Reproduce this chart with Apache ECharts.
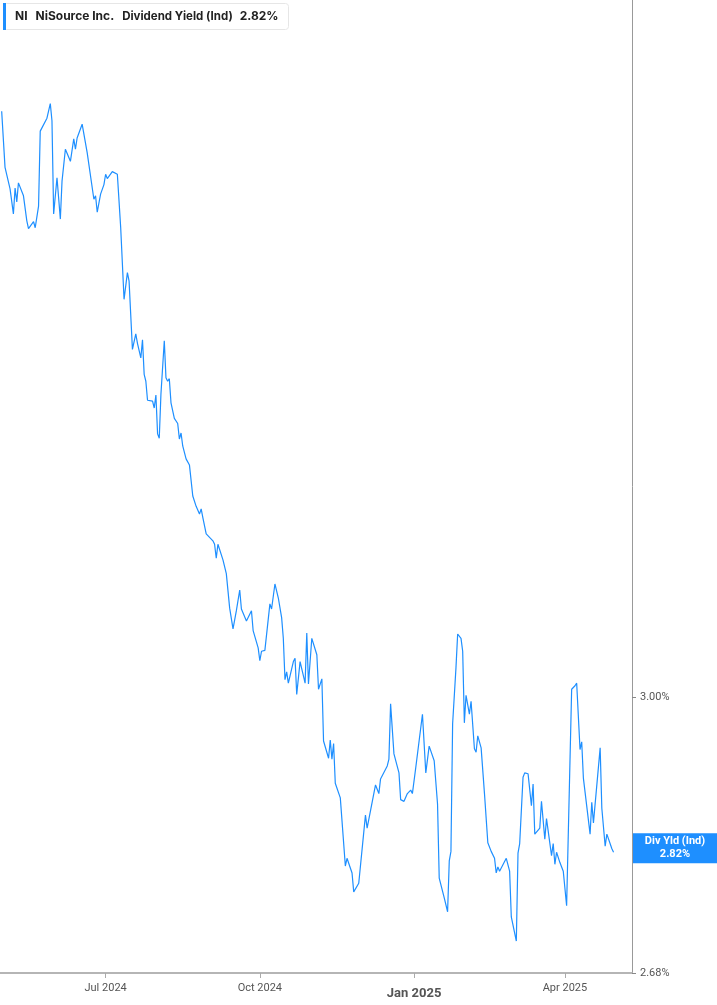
<!DOCTYPE html>
<html lang="en">
<head>
  <meta charset="UTF-8">
  <title>NI Dividend Yield (Ind)</title>
  <script src="https://cdn.jsdelivr.net/npm/echarts@6.0.0/dist/echarts.min.js"></script>
  <style>
    html, body { margin: 0; padding: 0; background: #fff; }
    #chart { width: 717px; height: 1005px; }
  </style>
</head>
<body>
<div id="chart"></div>
<script>
// dividend yield (%)
var dates = [
  '2024-04-30','2024-05-02','2024-05-05','2024-05-07','2024-05-08','2024-05-09','2024-05-10','2024-05-13','2024-05-15','2024-05-16',
  '2024-05-19','2024-05-20','2024-05-22','2024-05-23','2024-05-27','2024-05-29','2024-05-30','2024-05-31','2024-06-02','2024-06-04',
  '2024-06-05','2024-06-07','2024-06-10','2024-06-12','2024-06-13','2024-06-14','2024-06-17','2024-06-20','2024-06-21','2024-06-24',
  '2024-06-25','2024-06-26','2024-06-27','2024-06-28','2024-06-30','2024-07-01','2024-07-02','2024-07-05','2024-07-08','2024-07-10',
  '2024-07-12','2024-07-14','2024-07-15','2024-07-17','2024-07-18','2024-07-19','2024-07-20','2024-07-22','2024-07-23','2024-07-24',
  '2024-07-25','2024-07-26','2024-07-29','2024-07-30','2024-07-31','2024-08-01','2024-08-02','2024-08-03','2024-08-05','2024-08-06',
  '2024-08-07','2024-08-08','2024-08-09','2024-08-11','2024-08-13','2024-08-14','2024-08-15','2024-08-16','2024-08-18','2024-08-20',
  '2024-08-22','2024-08-24','2024-08-26','2024-08-27','2024-08-28','2024-08-29','2024-08-30','2024-09-03','2024-09-04','2024-09-05',
  '2024-09-06','2024-09-09','2024-09-11','2024-09-13','2024-09-15','2024-09-17','2024-09-19','2024-09-20','2024-09-23','2024-09-24',
  '2024-09-26','2024-09-27','2024-09-30','2024-10-01','2024-10-02','2024-10-04','2024-10-07','2024-10-08','2024-10-10','2024-10-12',
  '2024-10-14','2024-10-15','2024-10-16','2024-10-17','2024-10-18','2024-10-21','2024-10-22','2024-10-23','2024-10-24','2024-10-25',
  '2024-10-28','2024-10-29','2024-10-30','2024-10-31','2024-11-01','2024-11-04','2024-11-05','2024-11-07','2024-11-08','2024-11-11',
  '2024-11-12','2024-11-13','2024-11-14','2024-11-15','2024-11-18','2024-11-21','2024-11-22','2024-11-25','2024-11-26','2024-11-27',
  '2024-11-29','2024-12-03','2024-12-04','2024-12-05','2024-12-09','2024-12-10','2024-12-11','2024-12-12','2024-12-13','2024-12-16',
  '2024-12-17','2024-12-18','2024-12-20','2024-12-23','2024-12-24','2024-12-26','2024-12-28','2024-12-30','2024-12-31','2025-01-02',
  '2025-01-03','2025-01-06','2025-01-08','2025-01-10','2025-01-13','2025-01-15','2025-01-16','2025-01-19','2025-01-21','2025-01-22',
  '2025-01-23','2025-01-24','2025-01-26','2025-01-27','2025-01-29','2025-01-30','2025-01-31','2025-02-01','2025-02-03','2025-02-04',
  '2025-02-06','2025-02-07','2025-02-08','2025-02-10','2025-02-12','2025-02-14','2025-02-16','2025-02-18','2025-02-19','2025-02-20',
  '2025-02-21','2025-02-25','2025-02-27','2025-02-28','2025-03-03','2025-03-04','2025-03-05','2025-03-07','2025-03-08','2025-03-10',
  '2025-03-12','2025-03-13','2025-03-14','2025-03-17','2025-03-18','2025-03-20','2025-03-21','2025-03-24','2025-03-25','2025-03-26',
  '2025-03-27','2025-03-29','2025-03-31','2025-04-02','2025-04-05','2025-04-07','2025-04-08','2025-04-10','2025-04-11','2025-04-12',
  '2025-04-16','2025-04-17','2025-04-18','2025-04-22','2025-04-23','2025-04-25','2025-04-26','2025-04-29','2025-04-30'
];
var yieldValues = [
  3.679,3.614,3.589,3.560,3.590,3.574,3.596,3.581,3.552,3.543,
  3.551,3.544,3.569,3.656,3.671,3.688,3.668,3.560,3.602,3.554,
  3.598,3.635,3.621,3.647,3.635,3.648,3.664,3.631,3.631,3.577,
  3.581,3.562,3.563,3.583,3.594,3.606,3.601,3.609,3.606,3.544,
  3.461,3.492,3.482,3.403,3.403,3.421,3.410,3.393,3.414,3.374,
  3.366,3.344,3.343,3.335,3.350,3.305,3.300,3.351,3.413,3.370,
  3.366,3.369,3.341,3.323,3.317,3.299,3.306,3.291,3.276,3.269,
  3.233,3.221,3.212,3.218,3.208,3.210,3.189,3.181,3.177,3.161,
  3.177,3.159,3.143,3.103,3.079,3.100,3.124,3.102,3.088,3.089,
  3.100,3.077,3.057,3.042,3.053,3.054,3.108,3.102,3.131,3.115,
  3.092,3.068,3.020,3.029,3.016,3.041,3.045,3.003,3.005,3.041,
  3.016,3.074,3.015,3.015,3.068,3.049,3.009,3.021,2.949,2.929,
  2.950,2.928,2.946,2.900,2.883,2.804,2.813,2.796,2.774,2.774,
  2.784,2.863,2.848,2.848,2.898,2.899,2.888,2.905,2.904,2.920,
  2.928,2.992,2.934,2.912,2.881,2.879,2.888,2.892,2.888,2.918,
  2.917,2.980,2.912,2.943,2.926,2.876,2.790,2.767,2.751,2.810,
  2.821,2.969,3.034,3.073,3.068,3.053,2.970,3.002,2.980,2.995,
  2.940,2.936,2.955,2.941,2.888,2.831,2.821,2.813,2.796,2.803,
  2.798,2.813,2.798,2.745,2.717,2.819,2.830,2.907,2.912,2.911,
  2.874,2.899,2.841,2.848,2.879,2.835,2.859,2.816,2.830,2.806,
  2.820,2.808,2.798,2.758,3.009,3.013,3.016,2.939,2.948,2.906,
  2.841,2.878,2.854,2.941,2.871,2.827,2.841,2.824,2.820
];
var xTickDates = ['2024-07-01', '2024-10-01', '2025-01-01', '2025-04-01'];
var yTickValues = [2.68, 3.00];
var lastYield = 2.82;

var monthNames = ['Jan','Feb','Mar','Apr','May','Jun','Jul','Aug','Sep','Oct','Nov','Dec'];
var lineColor = '#1e8fff';

function toTime(s) { return Date.parse(s + 'T00:00:00Z'); }

var seriesData = dates.map(function (d, i) { return [toTime(d), yieldValues[i]]; });
var xTicks = xTickDates.map(toTime);
var xMin = toTime('2024-04-29');
var xMax = toTime('2025-05-11');

var myChart = echarts.init(document.getElementById('chart'), null, { width: 717, height: 1005 });

var option = {
  animation: false,
  textStyle: { fontFamily: 'Inter, Roboto, sans-serif' },
  title: {
    left: 3,
    top: 3,
    padding: [0, 10, 0, 0],
    borderColor: '#e6e6e6',
    borderWidth: 1,
    borderRadius: 3,
    text: '{bar|}{tk|NI}{nm|NiSource Inc.}{ms|Dividend Yield (Ind)}{val|' + lastYield.toFixed(2) + '%}',
    textStyle: {
      rich: {
        bar: { width: 3, height: 27, backgroundColor: lineColor },
        tk: { fontSize: 12, fontWeight: 'bold', color: '#222', padding: [0, 0, 0, 9] },
        nm: { fontSize: 12, fontWeight: 'bold', color: '#222', padding: [0, 0, 0, 8] },
        ms: { fontSize: 11.5, color: '#222', padding: [0, 0, 0, 8] },
        val: { fontSize: 12, fontWeight: 'bold', color: '#222', padding: [0, 0, 0, 7] }
      }
    }
  },
  grid: { left: 0, right: 85, top: 0, bottom: 32 },
  xAxis: {
    type: 'value',
    min: xMin,
    max: xMax,
    splitLine: { show: false },
    axisLine: { lineStyle: { color: '#b5b5b5', width: 2 } },
    axisTick: { show: true, length: 5, customValues: xTicks, lineStyle: { color: '#aaa' } },
    axisLabel: {
      customValues: xTicks,
      margin: 10,
      fontSize: 11,
      color: '#555',
      fontFamily: 'Roboto, sans-serif',
      formatter: function (val) {
        var d = new Date(val);
        var s = monthNames[d.getUTCMonth()] + ' ' + d.getUTCFullYear();
        return d.getUTCMonth() === 0 ? '{yr|' + s + '}' : s;
      },
      rich: {
        yr: { fontSize: 13, fontWeight: 'bold', color: '#555', padding: [4, 0, 0, 0], fontFamily: 'Roboto, sans-serif' }
      }
    }
  },
  yAxis: {
    type: 'value',
    position: 'right',
    min: 2.68,
    max: 3.808,
    splitLine: { show: false },
    axisLine: { show: true, lineStyle: { color: '#999' } },
    axisTick: { show: true, inside: false, length: 4, customValues: yTickValues, lineStyle: { color: '#888' } },
    axisLabel: {
      customValues: yTickValues,
      margin: 8,
      fontSize: 11,
      color: '#555',
      fontFamily: 'Roboto, sans-serif',
      formatter: function (v) { return v.toFixed(2) + '%'; }
    }
  },
  series: [
    {
      name: 'Div Yld (Ind)',
      type: 'line',
      data: seriesData,
      showSymbol: false,
      clip: false,
      lineStyle: { color: lineColor, width: 1.2 },
      markLine: {
        silent: true,
        symbol: ['none', 'none'],
        lineStyle: { color: 'rgba(0,0,0,0)', opacity: 1, width: 1 },
        label: {
          show: true,
          position: 'end',
          distance: 1,
          offset: [0, -4],
          opacity: 1,
          backgroundColor: lineColor,
          padding: [2, 0, 2, 0],
          formatter: '{t|Div Yld (Ind)}\n{t|' + lastYield.toFixed(2) + '%}',
          rich: {
            t: { width: 84, align: 'center', color: '#fff', fontWeight: 'bold', fontSize: 11, lineHeight: 13, fontFamily: 'Roboto, sans-serif' }
          }
        },
        data: [[{ coord: [xMin, lastYield] }, { coord: [xMax, lastYield] }]]
      }
    }
  ]
};

myChart.setOption(option);
</script>
</body>
</html>
